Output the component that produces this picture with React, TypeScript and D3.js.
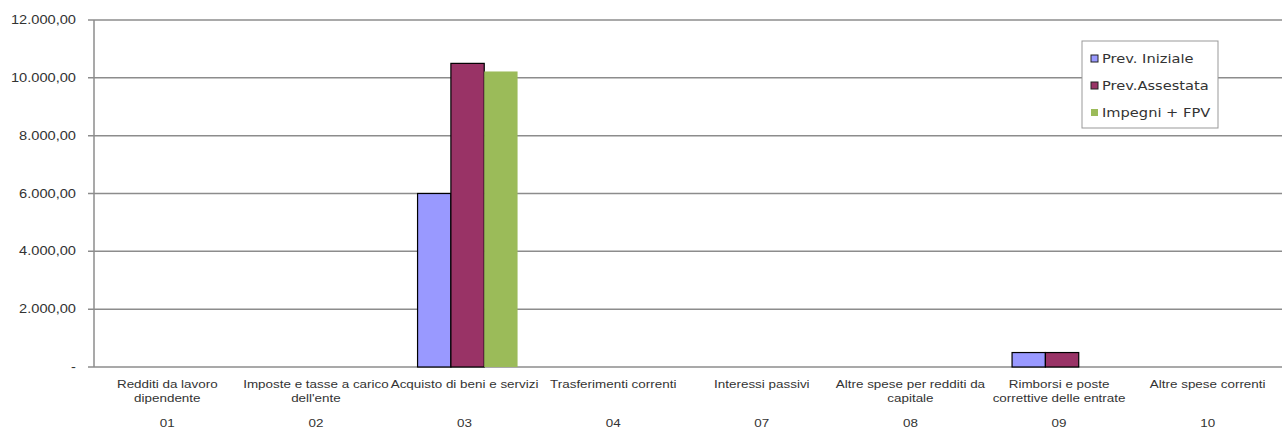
import React from "react";
import * as d3 from "d3";

const categories = [
  ["Redditi da lavoro", "dipendente"],
  ["Imposte e tasse a carico", "dell'ente"],
  ["Acquisto di beni e servizi"],
  ["Trasferimenti correnti"],
  ["Interessi passivi"],
  ["Altre spese per redditi da", "capitale"],
  ["Rimborsi e poste", "correttive delle entrate"],
  ["Altre spese correnti"],
];
const codes = ["01", "02", "03", "04", "07", "08", "09", "10"];
const seriesNames = ["Prev. Iniziale", "Prev.Assestata", "Impegni + FPV"];
const prevIniziale = [0, 0, 6000, 0, 0, 0, 500, 0];
const prevAssestata = [0, 0, 10500, 0, 0, 0, 500, 0];
const impegniFpv = [0, 0, 10220, 0, 0, 0, 0, 0];
const yTicks = [0, 2000, 4000, 6000, 8000, 10000, 12000];

const colors = ["#9999FF", "#993366", "#9BBB59"];
const strokes = ["#000", "#000", "none"];

const W = 1282, H = 430;
const left = 94, right = 1283, top = 20, bottom = 367;
const SX = 1.22;

function fmt(v: number) {
  if (v === 0) return "-";
  const s = d3.format(",.2f")(v);
  return s.replace(/,/g, "#").replace(".", ",").replace(/#/g, ".");
}

function T(props: { x: number; y: number; anchor?: string; size: number; sx?: number; family?: string; fill?: string; children: React.ReactNode }) {
  const { x, y, anchor = "start", size, sx = SX, family = "'Liberation Sans', Arial, sans-serif", fill = "#333" } = props;
  return (
    <text
      transform={`translate(${x},${y}) scale(${sx},1)`}
      textAnchor={anchor as any}
      fontFamily={family}
      fontSize={size}
      fill={fill}
    >
      {props.children}
    </text>
  );
}

export default function App() {
  const series = [prevIniziale, prevAssestata, impegniFpv];
  const x = d3.scaleBand<string>().domain(codes).range([left, right]);
  const y = d3.scaleLinear().domain([0, 12000]).range([bottom, top]);
  const groupW = 100;
  const barW = groupW / 3;
  return (
    <svg width={W} height={H} style={{ position: "absolute", left: 0, top: 0, background: "#fff" }}>
      {yTicks.map((t) => (
        <g key={t}>
          <line x1={left - 6} x2={right} y1={y(t)} y2={y(t)} stroke="#8c8c8c" strokeWidth={1.5} />
          <T x={76} y={y(t) + 4} anchor="end" size={12}>
            {fmt(t)}
          </T>
        </g>
      ))}
      <line x1={left} x2={left} y1={top} y2={bottom} stroke="#8c8c8c" strokeWidth={1.5} />
      {codes.map((c, i) => {
        const cx = (x(c) as number) + x.bandwidth() / 2 + 2;
        return (
          <g key={c}>
            {series.map((s, k) =>
              s[i] > 0 ? (
                <rect
                  key={k}
                  x={cx - groupW / 2 + k * barW}
                  y={y(s[i])}
                  width={barW}
                  height={y(0) - y(s[i])}
                  fill={colors[k]}
                  stroke={strokes[k]}
                  strokeWidth={1.2}
                />
              ) : null
            )}
            {categories[i].map((ln, j) => (
              <T key={j} x={cx - 3} y={388 + j * 13.5} anchor="middle" size={10.5} sx={1.28}>
                {ln}
              </T>
            ))}
            <T x={cx - 3} y={427} anchor="middle" size={10.5} sx={1.28}>
              {c}
            </T>
          </g>
        );
      })}
      <g>
        <rect x={1082} y={41} width={136} height={87} fill="#fff" stroke="#999" strokeWidth={1} />
        {seriesNames.map((n, k) => (
          <g key={n}>
            <rect
              x={1091}
              y={55 + k * 27}
              width={7}
              height={7}
              fill={colors[k]}
              stroke={k < 2 ? "#222" : "none"}
              strokeWidth={1}
            />
            <T x={1102} y={63 + k * 27} size={12} sx={1.22} family="'DejaVu Sans', Verdana, sans-serif" fill="#333">
              {n}
            </T>
          </g>
        ))}
      </g>
    </svg>
  );
}
